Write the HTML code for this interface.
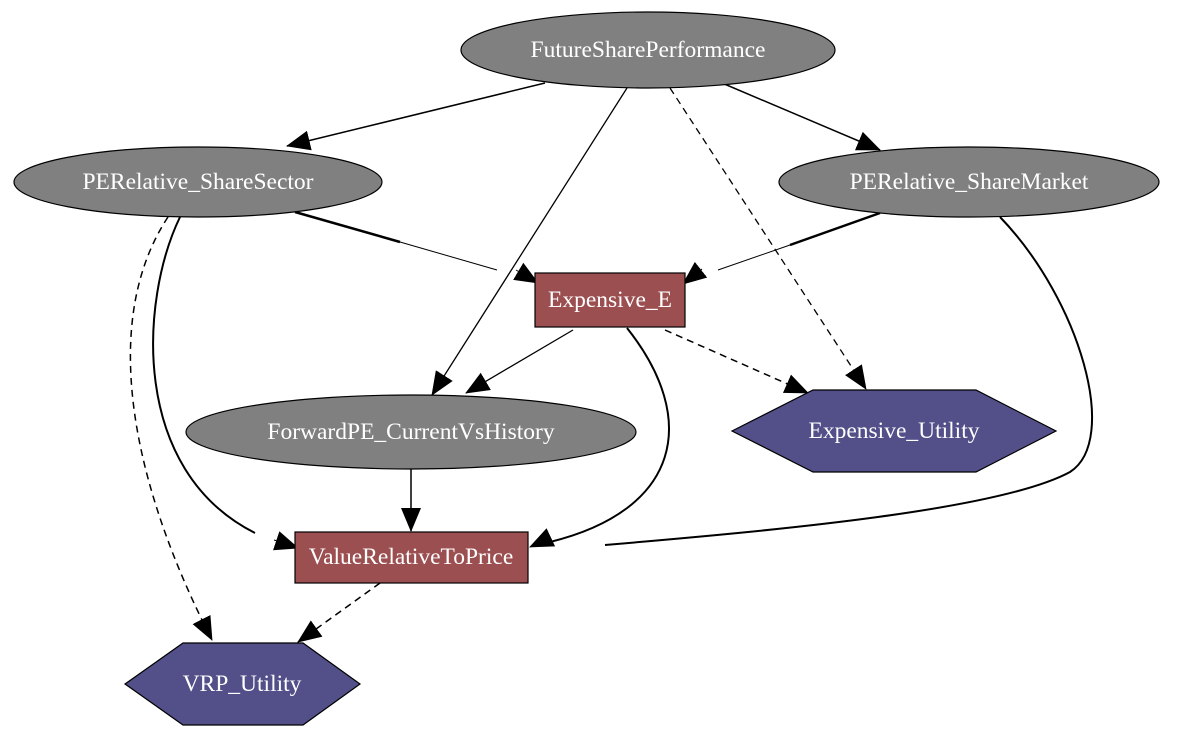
<!DOCTYPE html>
<html><head><meta charset="utf-8"><style>
body{margin:0;background:#fff;}
svg{display:block;}
text{font-family:"Liberation Serif",serif;font-size:23.5px;fill:#fff;text-anchor:middle;dominant-baseline:central;}
</style></head><body>
<svg width="1197" height="737" viewBox="0 0 1197 737" xmlns="http://www.w3.org/2000/svg">
<defs>
<marker id="b" markerWidth="24" markerHeight="20" refX="23" refY="10" orient="auto" markerUnits="userSpaceOnUse" viewBox="0 0 24 20">
<path d="M0,0 L24,10 L0,20 z" fill="#000"/></marker>
</defs>
<g fill="none" stroke="#000">
<path d="M545,83 L287,146" stroke-width="1.5" marker-end="url(#b)"/>
<path d="M722,83 L880,150" stroke-width="1.5" marker-end="url(#b)"/>
<path d="M627,88 L432,395" stroke-width="1.3" marker-end="url(#b)"/>
<path d="M670,88 L866,389" stroke-width="1.3" stroke-dasharray="7,5" marker-end="url(#b)"/>
<path d="M295,212 L400,242" stroke-width="2.5"/>
<path d="M400,242 L497,270" stroke-width="1"/>
<path d="M516,270 L538,283" stroke-width="1" marker-end="url(#b)"/>
<path d="M880,213 L790,245" stroke-width="2.5"/>
<path d="M790,245 L718,270" stroke-width="1"/>
<path d="M702,269 L683,284" stroke-width="1" marker-end="url(#b)"/>
<path d="M573,330 L466,393" stroke-width="1.3" marker-end="url(#b)"/>
<path d="M665,330 L808,393" stroke-width="1.5" stroke-dasharray="7,5" marker-end="url(#b)"/>
<path d="M627,328 C700,420 680,510 550,542" stroke-width="2"/>
<path d="M545,540 L530,547" stroke-width="1" marker-end="url(#b)"/>
<path d="M180,217 C140,300 130,470 255,533" stroke-width="2"/>
<path d="M274,540 L298,548" stroke-width="1" marker-end="url(#b)"/>
<path d="M168,217 C100,320 130,480 212,640" stroke-width="1.5" stroke-dasharray="7,5" marker-end="url(#b)"/>
<path d="M1000,217 C1080,300 1120,440 1070,472 C1000,510 780,530 605,545" stroke-width="2"/>
<path d="M411,469 L411,531" stroke-width="1.5" marker-end="url(#b)"/>
<path d="M380,583 L298,642" stroke-width="1.5" stroke-dasharray="7,5" marker-end="url(#b)"/>
</g>
<ellipse cx="648" cy="50" rx="187" ry="38" fill="#808080" stroke="#000" stroke-width="1.2"/>
<text x="648" y="50">FutureSharePerformance</text>
<ellipse cx="198" cy="182" rx="184" ry="35" fill="#808080" stroke="#000" stroke-width="1.2"/>
<text x="198" y="182">PERelative_ShareSector</text>
<ellipse cx="969" cy="182" rx="190" ry="35" fill="#808080" stroke="#000" stroke-width="1.2"/>
<text x="969" y="182">PERelative_ShareMarket</text>
<rect x="535" y="273" width="150" height="54" fill="#9c4f50" stroke="#000" stroke-width="1.2"/>
<text x="610" y="300">Expensive_E</text>
<ellipse cx="411" cy="432" rx="225" ry="37" fill="#808080" stroke="#000" stroke-width="1.2"/>
<text x="411" y="432">ForwardPE_CurrentVsHistory</text>
<polygon points="732,431 813,390 976,390 1056,431 976,472 813,472" fill="#524f89" stroke="#000" stroke-width="1.2"/>
<text x="894" y="431">Expensive_Utility</text>
<rect x="295" y="532" width="233" height="51" fill="#9c4f50" stroke="#000" stroke-width="1.2"/>
<text x="411" y="557">ValueRelativeToPrice</text>
<polygon points="125,684 183,643 303,643 360,684 303,725 183,725" fill="#524f89" stroke="#000" stroke-width="1.2"/>
<text x="242" y="684">VRP_Utility</text>
</svg>
</body></html>
